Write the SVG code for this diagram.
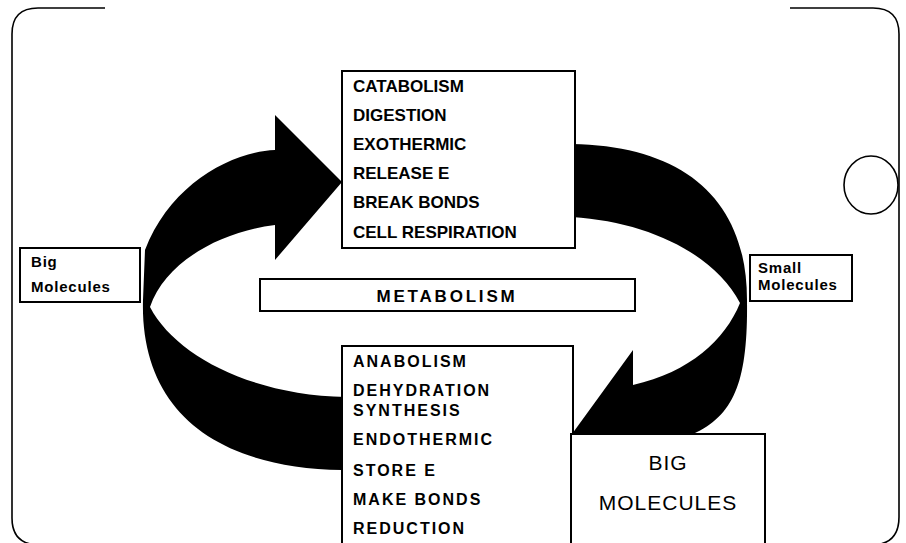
<svg xmlns="http://www.w3.org/2000/svg" width="906" height="543" viewBox="0 0 906 543">
<style>
.frame{fill:none;stroke:#000;stroke-width:1.6}
.box{fill:#fff;stroke:#000;stroke-width:2}
.arrow{fill:#000;stroke:none}
.t{font-family:"Liberation Sans",Arial,sans-serif;font-weight:bold;fill:#000}
.top{font-size:17px}
.bot{font-size:16px;letter-spacing:2px}
.small{font-size:15px;letter-spacing:0.8px}
.big{font-family:"Liberation Sans",Arial,sans-serif;font-size:21px;letter-spacing:1px;fill:#000}
</style>
<rect width="906" height="543" fill="#fff"/>
<g id="frame">
<path class="frame" d="M105,8 L38,8 Q12,8 12,34 L12,518 Q12,545 40,545 L871,545 Q899,545 899,517 L899,34 Q899,8 873,8 L790,8"/>
<ellipse class="frame" cx="871" cy="185" rx="27" ry="29"/>
</g>
<g id="connectors">
<path class="arrow" d="M275,150 L275,115 L342,182 L275,260 L275,225 C220,232 165,262 150,307 C175,355 250,395 346,397 L346,470 L342,470 C215,468 140,410 143,300 L145,250 C170,185 230,152 275,150 Z"/>
<path class="arrow" d="M572,144 C685,146 747,200 747,300 C748,380 735,415 693,434 L572,434 L633,350 L633,385 C690,372 725,340 740,303 C715,255 650,222 572,217 Z"/>
</g>
<g id="catabolism">
<rect class="box" x="342" y="71" width="233" height="177"/>
<text class="t top" x="353" y="92">CATABOLISM</text>
<text class="t top" x="353" y="121">DIGESTION</text>
<text class="t top" x="353" y="150">EXOTHERMIC</text>
<text class="t top" x="353" y="179">RELEASE E</text>
<text class="t top" x="353" y="208">BREAK BONDS</text>
<text class="t top" x="353" y="238">CELL RESPIRATION</text>
</g>
<g id="anabolism">
<rect class="box" x="342" y="346" width="231" height="210"/>
<text class="t bot" x="353" y="367">ANABOLISM</text>
<text class="t bot" x="353" y="396">DEHYDRATION</text>
<text class="t bot" x="353" y="416">SYNTHESIS</text>
<text class="t bot" x="353" y="445">ENDOTHERMIC</text>
<text class="t bot" x="353" y="476">STORE E</text>
<text class="t bot" x="353" y="505">MAKE BONDS</text>
<text class="t bot" x="353" y="534">REDUCTION</text>
</g>
<g id="metabolism">
<rect class="box" x="260" y="279" width="375" height="32"/>
<text class="t" x="447" y="302" font-size="17" letter-spacing="2.8" text-anchor="middle">METABOLISM</text>
</g>
<g id="big-molecules-small">
<rect class="box" x="20" y="248" width="120" height="54"/>
<text class="t small" x="31" y="267">Big</text>
<text class="t small" x="31" y="292">Molecules</text>
</g>
<g id="small-molecules">
<rect class="box" x="750" y="255" width="102" height="46"/>
<text class="t small" x="758" y="273">Small</text>
<text class="t small" x="758" y="290">Molecules</text>
</g>
<g id="big-molecules">
<rect class="box" x="571" y="434" width="194" height="120"/>
<text class="big" x="668" y="470" text-anchor="middle">BIG</text>
<text class="big" x="668" y="510" text-anchor="middle">MOLECULES</text>
</g>
</svg>
